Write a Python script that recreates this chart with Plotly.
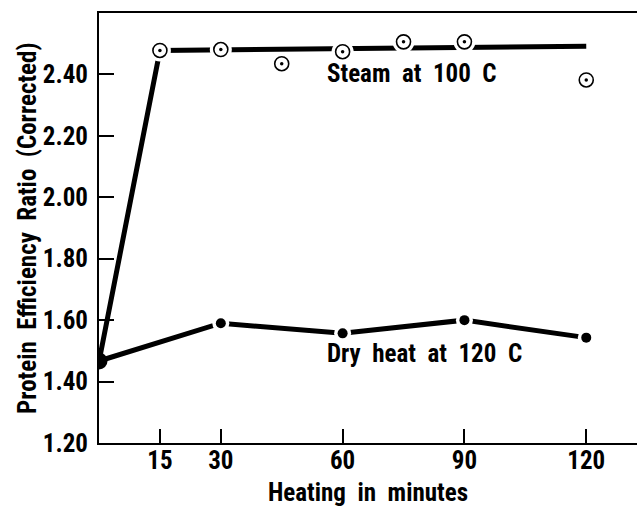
import plotly.graph_objects as go

# Data
steam_minutes = [0, 15, 30, 45, 60, 75, 90, 120]
steam_per = [1.465, 2.478, 2.481, 2.435, 2.474, 2.506, 2.506, 2.382]
steam_fit_minutes = [0, 15, 120]
steam_fit_per = [1.465, 2.478, 2.492]

dry_minutes = [0, 30, 60, 90, 120]
dry_per = [1.467, 1.590, 1.557, 1.600, 1.543]

x_ticks = [15, 30, 60, 90, 120]
y_ticks = [1.20, 1.40, 1.60, 1.80, 2.00, 2.20, 2.40]
y_tick_labels = ["1.20", "1.40", "1.60", "1.80", "2.00", "2.20", "2.40"]

FONT = "Roboto"
NB = "\u00a0"


def cond(s):
    return f"<span style='font-stretch:condensed'>{s}</span>"


def spaced(s):
    return s.replace(" ", NB + NB)


fig = go.Figure()

# lines
fig.add_trace(go.Scatter(x=steam_fit_minutes, y=steam_fit_per, mode="lines",
                         line=dict(color="black", width=5), hoverinfo="skip"))
fig.add_trace(go.Scatter(x=dry_minutes, y=dry_per, mode="lines",
                         line=dict(color="black", width=5), hoverinfo="skip"))

# white halos to break lines around markers
fig.add_trace(go.Scatter(x=steam_minutes[1:], y=steam_per[1:], mode="markers",
                         marker=dict(symbol="circle", size=22, color="white",
                                     line=dict(width=0)), hoverinfo="skip"))
fig.add_trace(go.Scatter(x=dry_minutes[1:], y=dry_per[1:], mode="markers",
                         marker=dict(symbol="circle", size=17, color="white",
                                     line=dict(width=0)), hoverinfo="skip"))

# steam open circles with centre dot
fig.add_trace(go.Scatter(x=steam_minutes[1:], y=steam_per[1:], mode="markers",
                         marker=dict(symbol="circle", size=14, color="white",
                                     line=dict(width=1.6, color="black"))))
fig.add_trace(go.Scatter(x=steam_minutes[1:], y=steam_per[1:], mode="markers",
                         marker=dict(symbol="circle", size=3.5, color="black",
                                     line=dict(width=0))))
# dry heat dots
fig.add_trace(go.Scatter(x=dry_minutes[1:], y=dry_per[1:], mode="markers",
                         marker=dict(symbol="circle", size=10, color="black",
                                     line=dict(width=0))))
# common starting point
fig.add_trace(go.Scatter(x=dry_minutes[:1], y=dry_per[:1], mode="markers",
                         marker=dict(symbol="circle", size=17, color="black",
                                     line=dict(width=0))))

label_font = dict(family=FONT, size=25, color="black", weight="bold")

fig.add_annotation(x=77.2, y=2.403, text=cond(spaced("Steam at 100 C")),
                   showarrow=False, xanchor="center", yanchor="middle", font=label_font)
fig.add_annotation(x=80.1, y=1.492, text=cond(spaced("Dry heat at 120 C")),
                   showarrow=False, xanchor="center", yanchor="middle", font=label_font)

# axis titles
fig.add_annotation(x=0.5, y=-0.116, xref="paper", yref="paper",
                   text=cond(spaced("Heating in minutes")), showarrow=False,
                   xanchor="center", yanchor="middle", font=label_font)
fig.add_annotation(x=-0.134, y=0.5, xref="paper", yref="paper", textangle=-90,
                   text=cond(spaced("Protein Efficiency Ratio (Corrected)")), showarrow=False,
                   xanchor="center", yanchor="middle", font=label_font)

fig.update_layout(
    width=637, height=506,
    margin=dict(l=99, r=0, t=13, b=63),
    paper_bgcolor="white", plot_bgcolor="white",
    showlegend=False,
    font=dict(family=FONT, size=25, color="black", weight="bold"),
    xaxis=dict(range=[0, 132.5], tickvals=x_ticks, ticktext=[cond(str(v)) for v in x_ticks],
               ticks="inside", ticklen=14, tickwidth=1.5, tickcolor="black",
               showline=True, linecolor="black", linewidth=2, mirror=True,
               showgrid=False, zeroline=False, automargin=False,
               ticklabelstandoff=-6,
               tickfont=dict(family=FONT, size=25, weight="bold")),
    yaxis=dict(range=[1.20, 2.60], tickvals=y_ticks, ticktext=[cond(t) for t in y_tick_labels],
               ticks="inside", ticklen=15, tickwidth=1.5, tickcolor="black",
               showline=True, linecolor="black", linewidth=2, mirror=False,
               showgrid=False, zeroline=False, automargin=False,
               ticklabelstandoff=4,
               tickfont=dict(family=FONT, size=25, weight="bold")),
)

fig.write_html("out.html", config={"displayModeBar": False},
               post_script="document.body.style.margin='0';")
